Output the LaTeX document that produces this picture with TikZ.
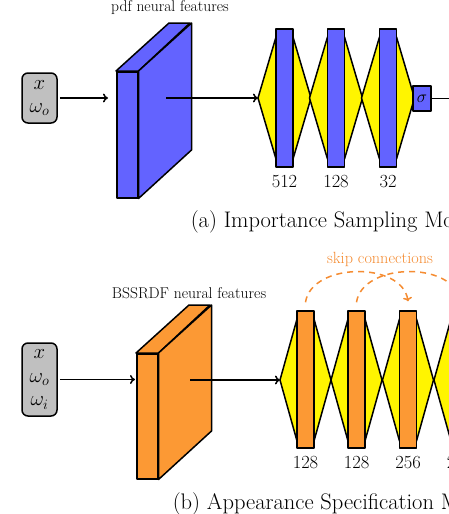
\documentclass[tikz,border=0pt]{standalone}
\usetikzlibrary{arrows.meta}
\definecolor{nblue}{RGB}{99,99,255}
\definecolor{norange}{RGB}{252,153,52}
\definecolor{skipc}{RGB}{245,140,50}
\definecolor{ngray}{RGB}{192,192,192}
\definecolor{nyellow}{RGB}{255,245,0}
\begin{document}
\begin{tikzpicture}[x=1pt,y=-1pt,line width=1.5pt,line join=round,
  inbox/.style={draw,fill=ngray,rounded corners=6pt,minimum width=35pt,inner sep=0pt,align=center,font=\fontsize{20}{23.5}\selectfont},
  slabface/.style={draw,inner sep=0pt,minimum width=21pt,minimum height=126pt,anchor=north west},
  layerbar/.style={draw,inner sep=0pt,minimum width=17pt,minimum height=138pt},
  arr/.style={-{To[length=5pt,width=9pt]}},
  lab/.style={font=\fontsize{15.6}{18}\selectfont},
  numlab/.style={font=\fontsize{18.5}{20}\selectfont},
  captxt/.style={font=\fontsize{22.5}{26}\selectfont,anchor=base west,inner sep=0pt},
  skiparr/.style={draw=skipc,dash pattern=on 6pt off 5pt,line width=1.5pt,-{To[length=4pt,width=9pt]}}]
\fill[white] (0,0) rectangle (449,514);
\useasboundingbox (0,0) rectangle (449,514);
\clip (0,0) rectangle (449,514);

% ---------- (a) ----------
\node[inbox,minimum height=50pt] (in1) at (39.5,98) {$x$\\$\omega_o$};
\node[slabface,fill=nblue] (f1) at (116,71) {};
\draw[fill=nblue] (f1.north west) -- ++(53,-48) -- ++(21,0) -- (f1.north east) -- cycle;
\draw[fill=nblue] (f1.north east) -- ++(53,-48) -- ++(0,127) -- (f1.south east) -- cycle;
\node[lab] (lab1) at (170,8) {pdf neural features};
\draw[arr,shorten <=2pt,shorten >=8pt] (in1.east) -- (in1.east -| f1.west);
\coordinate (s1) at (166,98);
\coordinate (p1) at (258,98);
\draw[arr] (s1) -- (p1);
\foreach \c/\n/\t in {284.5/1/512,336/2/128,388/3/32}{
  \draw[fill=nyellow] (\c-26.5,98) -- (\c-8.5,37) -- (\c+8.5,37) -- (\c+26.5,98) -- (\c+8.5,159) -- (\c-8.5,159) -- cycle;
  \node[layerbar,fill=nblue] (a\n) at (\c,98) {};
  \node[numlab] (na\n) at (\c,182) {\t};
}
\node[draw,fill=nblue,inner sep=0pt,minimum width=18pt,minimum height=25pt,font=\fontsize{19}{20}\selectfont] (sig) at (422,98.5) {$\sigma$};
\coordinate (o1) at (470,98.5);
\draw (sig.east) -- (o1);
\node[captxt] (cap1) at (190,227) {(a) Importance Sampling Model};

% ---------- (b) ----------
\node[inbox,minimum height=73pt] (in2) at (39.5,379.5) {$x$\\$\omega_o$\\$\omega_i$};
\node[slabface,fill=norange,minimum height=125pt] (f2) at (136,353) {};
\draw[fill=norange] (f2.north west) -- ++(53,-48) -- ++(21,0) -- (f2.north east) -- cycle;
\draw[fill=norange] (f2.north east) -- ++(53,-48) -- ++(0,126) -- (f2.south east) -- cycle;
\node[lab] (lab2) at (189,293) {BSSRDF neural features};
\draw[arr,shorten <=2pt,shorten >=1pt] (in2.east) -- (in2.east -| f2.west);
\coordinate (s2) at (190,380);
\coordinate (p2) at (280,380);
\draw[arr] (s2) -- (p2);
\foreach \c/\n/\t in {305.5/1/128,356.5/2/128,408/3/256,459.5/4/256}{
  \draw[fill=nyellow] (\c-25.5,380) -- (\c-8.5,319) -- (\c+8.5,319) -- (\c+25.5,380) -- (\c+8.5,441) -- (\c-8.5,441) -- cycle;
  \node[layerbar,fill=norange,minimum height=137pt] (b\n) at (\c,379.5) {};
  \node[numlab] (nb\n) at (\c,463) {\t};
}
\draw[skiparr] ([yshift=8pt]b1.north) .. controls +(6,-40) and +(-6,-40) .. ([yshift=9pt]b3.north);
\draw[skiparr] ([yshift=8pt]b2.north) .. controls +(6,-40) and +(-6,-40) .. ([yshift=9pt]b4.north);
\node[lab,text=skipc,font=\fontsize{16.2}{18}\selectfont] (lab3) at (380,259) {skip connections};
\node[captxt] (cap2) at (172,509) {(b) Appearance Specification Model};
\end{tikzpicture}
\end{document}
